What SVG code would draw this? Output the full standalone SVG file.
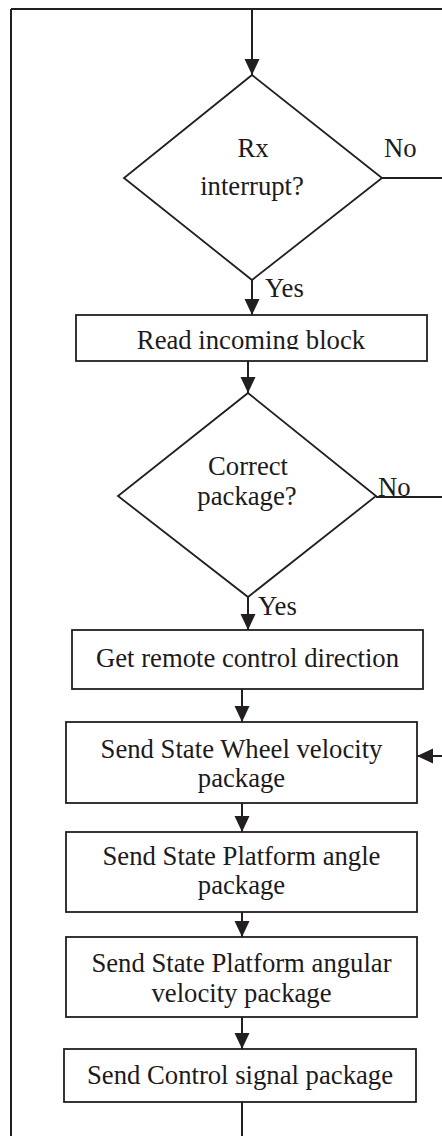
<svg xmlns="http://www.w3.org/2000/svg" width="442" height="1136" viewBox="0 0 442 1136">
  <style>
    .shape { fill: #ffffff; stroke: #231f20; stroke-width: 1.8; }
    .edge { fill: none; stroke: #231f20; stroke-width: 2; }
    .lbl { font-family: "Liberation Serif", "Times New Roman", serif; font-size: 26.7px; fill: #1c1a1b; }
    .mid { text-anchor: middle; }
  </style>
  <defs>
    <marker id="head" markerUnits="userSpaceOnUse" markerWidth="16" markerHeight="16" refX="16" refY="7.5" orient="auto">
      <path d="M0,0 L16,7.5 L0,15 Z" fill="#231f20"/>
    </marker>
    <clipPath id="readClip">
      <rect x="76" y="314" width="352" height="35.5"/>
    </clipPath>
  </defs>

  <rect width="442" height="1136" fill="#ffffff"/>

  <!-- connectors -->
  <g id="connectors">
    <path class="edge" d="M11,9 H442"/>
    <path class="edge" d="M11,9 V1136"/>
    <path class="edge" d="M252,9 V75" marker-end="url(#head)"/>
    <path class="edge" d="M382,178 H442"/>
    <path class="edge" d="M252,280 V315" marker-end="url(#head)"/>
    <path class="edge" d="M248,361 V393" marker-end="url(#head)"/>
    <path class="edge" d="M376,497 H442"/>
    <path class="edge" d="M248,597 V630" marker-end="url(#head)"/>
    <path class="edge" d="M242,689 V722" marker-end="url(#head)"/>
    <path class="edge" d="M442,756 H417" marker-end="url(#head)"/>
    <path class="edge" d="M242,803 V832" marker-end="url(#head)"/>
    <path class="edge" d="M242,912 V937" marker-end="url(#head)"/>
    <path class="edge" d="M242,1017 V1049" marker-end="url(#head)"/>
    <path class="edge" d="M242,1102 V1136"/>
    <text class="lbl" x="384" y="157">No</text>
    <text class="lbl" x="265" y="297">Yes</text>
    <text class="lbl" x="378" y="496">No</text>
    <text class="lbl" x="258" y="615">Yes</text>
  </g>

  <!-- decision: Rx interrupt -->
  <g id="rx-interrupt">
    <path class="shape" d="M252,75 L382,178 L252,280 L124,178 Z"/>
    <text class="lbl mid" x="253" y="157">Rx</text>
    <text class="lbl mid" x="252" y="195">interrupt?</text>
  </g>

  <!-- process: read block -->
  <g id="read-block">
    <rect class="shape" x="76" y="315" width="351" height="46"/>
    <text class="lbl mid" x="251" y="349" clip-path="url(#readClip)">Read incoming block</text>
  </g>

  <!-- decision: correct package -->
  <g id="correct-package">
    <path class="shape" d="M248,393 L376,496 L248,597 L118,496 Z"/>
    <text class="lbl mid" x="248" y="475">Correct</text>
    <text class="lbl mid" x="247" y="505">package?</text>
  </g>

  <g id="get-direction">
    <rect class="shape" x="72" y="630" width="351" height="59"/>
    <text class="lbl mid" x="247.5" y="667">Get remote control direction</text>
  </g>

  <g id="send-wheel-velocity">
    <rect class="shape" x="66" y="722" width="351" height="81"/>
    <text class="lbl mid" x="241.5" y="758">Send State Wheel velocity</text>
    <text class="lbl mid" x="241.5" y="787">package</text>
  </g>

  <g id="send-platform-angle">
    <rect class="shape" x="66" y="832" width="351" height="80"/>
    <text class="lbl mid" x="241.5" y="865">Send State Platform angle</text>
    <text class="lbl mid" x="241.5" y="894">package</text>
  </g>

  <g id="send-angular-velocity">
    <rect class="shape" x="66" y="937" width="351" height="80"/>
    <text class="lbl mid" x="241.5" y="972">Send State Platform angular</text>
    <text class="lbl mid" x="241.5" y="1002">velocity package</text>
  </g>

  <g id="send-control-signal">
    <rect class="shape" x="64" y="1049" width="352" height="53"/>
    <text class="lbl mid" x="240" y="1084">Send Control signal package</text>
  </g>
</svg>
